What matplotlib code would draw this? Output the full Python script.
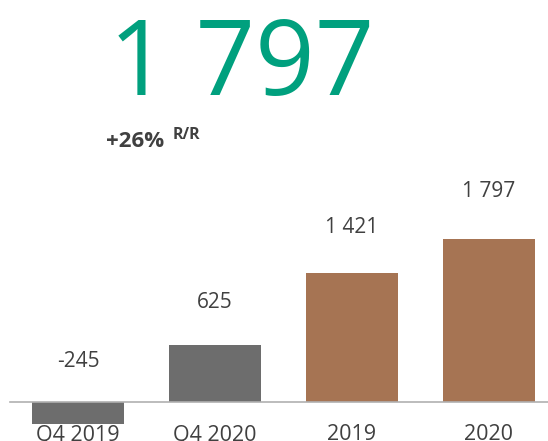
import numpy as np
import matplotlib.pyplot as plt

plt.rcParams['font.family'] = ['Open Sans', 'DejaVu Sans']

categories = ['Q4 2019', 'Q4 2020', '2019', '2020']
values = [-245, 625, 1421, 1797]
value_labels = ['-245', '625', '1 421', '1 797']
colors = ['#6d6d6d', '#6d6d6d', '#a67453', '#a67453']

headline = '1 797'
change = '+26%'
change_suffix = 'R/R'

text_col = '#404040'
green = '#00a07e'

fig = plt.figure(figsize=(5.48, 4.41), dpi=100)
ax = fig.add_axes([0, 0, 1, 1])

x = np.arange(len(categories))
ax.bar(x, values, width=0.67, color=colors, zorder=2)
ax.axhline(0, xmin=10 / 548, xmax=1, color='#b0b0b0', lw=1.2, zorder=3)

ax.set_xlim(-0.569, 3.431)
ax.set_ylim(-430, 4434)
ax.axis('off')

# value labels above bars (negative one sits above zero)
for i, (v, lab) in enumerate(zip(values, value_labels)):
    y = max(v, 0) * 1.04 + 450
    ax.text(i, y, lab, ha='center', va='center', fontsize=15, color=text_col)

# category labels under the axis line (cut by the bottom edge, as in the original)
for i, cat in enumerate(categories):
    ax.text(i, -245, cat, ha='center', va='top', fontsize=15.5, color=text_col)

# headline
fig.text(242 / 548, 1 - 95 / 441, headline, ha='center', va='baseline',
         fontsize=75, color=green)
fig.text(106 / 548, 1 - 147 / 441, change, ha='left', va='baseline',
         fontsize=16, fontweight='bold', color=text_col)
fig.text(173 / 548, 1 - 139 / 441, change_suffix, ha='left', va='baseline',
         fontsize=11.5, fontweight='bold', color=text_col)

fig.savefig('out.png', dpi=100)
